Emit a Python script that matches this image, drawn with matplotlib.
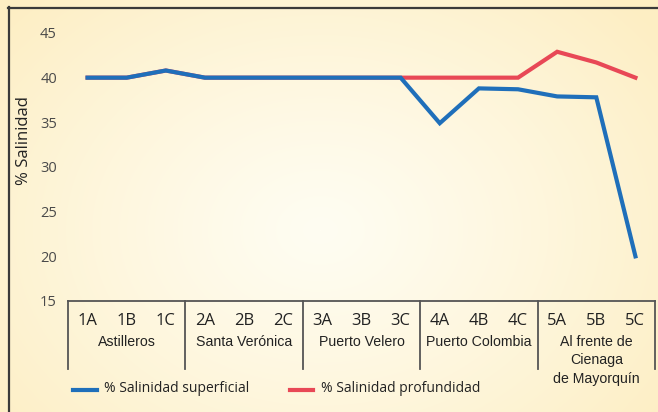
import numpy as np
import matplotlib
matplotlib.use("Agg")
import matplotlib.pyplot as plt

categories = ["1A", "1B", "1C", "2A", "2B", "2C", "3A", "3B", "3C",
              "4A", "4B", "4C", "5A", "5B", "5C"]
groups = ["Astilleros", "Santa Verónica", "Puerto Velero", "Puerto Colombia",
          "Al frente de\nCienaga\nde Mayorquín"]
superficial = [40, 40, 40.8, 40, 40, 40, 40, 40, 40, 34.9, 38.8, 38.7, 37.9, 37.8, 20]
profundidad = [40, 40, 40.8, 40, 40, 40, 40, 40, 40, 40, 40, 40, 42.9, 41.7, 40]
yticks = [15, 20, 25, 30, 35, 40, 45]

W, H = 658, 412
fig = plt.figure(figsize=(W / 100, H / 100), dpi=100)

# background gradient
bg = fig.add_axes([0, 0, 1, 1], zorder=-10)
yy, xx = np.mgrid[0:H, 0:W]
cx, cy = 320, 230
d = np.sqrt(((xx - cx) / 430.0) ** 2 + ((yy - cy) / 330.0) ** 2)
d = np.clip(d, 0, 1) ** 1.2
c0 = np.array([255, 253, 242]) / 255.0
c1 = np.array([253, 238, 195]) / 255.0
img = c0[None, None, :] * (1 - d[..., None]) + c1[None, None, :] * d[..., None]
bg.imshow(img, aspect="auto", extent=[0, W, H, 0])
bg.set_xlim(0, W)
bg.set_ylim(H, 0)
bg.axis("off")
# border (left and top)
bg.plot([8.5, 8.5], [7, H], color="#3a3a3a", lw=1.6)
bg.plot([8, 657], [7.5, 7.5], color="#3a3a3a", lw=1.6)

# main axes: x from 68 to 655 px, y from 301 (15) to 12 (top)
left, right = 68 / W, 655 / W
bottom_px, top_px = 301, 12
ax = fig.add_axes([left, 1 - bottom_px / H, right - left, (bottom_px - top_px) / H])
ax.patch.set_alpha(0)
n = len(categories)
x = np.arange(n)
ax.set_xlim(-0.5, n - 0.5)
ymin = 15
ymax = 15 + (bottom_px - top_px) / ((301 - 33) / 30.0)
ax.set_ylim(ymin, ymax)

ax.plot(x, profundidad, color="#e84856", lw=3.0, solid_joinstyle="miter", zorder=3)
ax.plot(x, superficial, color="#1f6fba", lw=3.0, solid_joinstyle="miter", zorder=4)

for s in ax.spines.values():
    s.set_visible(False)
ax.set_yticks(yticks)
ax.set_yticklabels([str(t) for t in yticks], fontsize=10.5, color="#4a4a4a",
                   family=["Open Sans", "DejaVu Sans"])
ax.tick_params(axis="y", length=0, pad=8)
ax.set_xticks([])

bg.text(24, 141, "% Salinidad", rotation=90, ha="center", va="center",
        fontsize=12, color="#222222", family=["Open Sans", "DejaVu Sans"])

# category table below the axes
tcol = "#555555"
ax.plot([-0.5, n - 0.5], [ymin, ymin], color=tcol, lw=1.3, clip_on=False)
bound = [-0.5, 2.5, 5.5, 8.5, 11.5, 14.5]
y_px = lambda p: ymin - (p - 301) * (30.0 / (301 - 33))
for b in bound:
    ax.plot([b, b], [ymin, y_px(369)], color=tcol, lw=1.3, clip_on=False)
for i, c in enumerate(categories):
    ax.text(x[i], y_px(321), c, ha="center", va="center", fontsize=12,
            color="#222222", family=["Open Sans", "DejaVu Sans"], clip_on=False)
for g, name in enumerate(groups):
    ax.text(3 * g + 1, y_px(335), name, ha="center", va="top", fontsize=10.2,
            color="#222222", family=["Liberation Sans", "DejaVu Sans"],
            linespacing=1.4, clip_on=False)

# legend
bg.plot([73, 97], [390, 390], color="#1f6fba", lw=3.0)
bg.text(104, 389, "% Salinidad superficial", ha="left", va="center",
        fontsize=10, color="#222222", family=["Open Sans", "DejaVu Sans"])
bg.plot([290, 313], [390, 390], color="#e84856", lw=3.0)
bg.text(321, 389, "% Salinidad profundidad", ha="left", va="center",
        fontsize=10, color="#222222", family=["Open Sans", "DejaVu Sans"])

fig.savefig("out.png", dpi=100)
